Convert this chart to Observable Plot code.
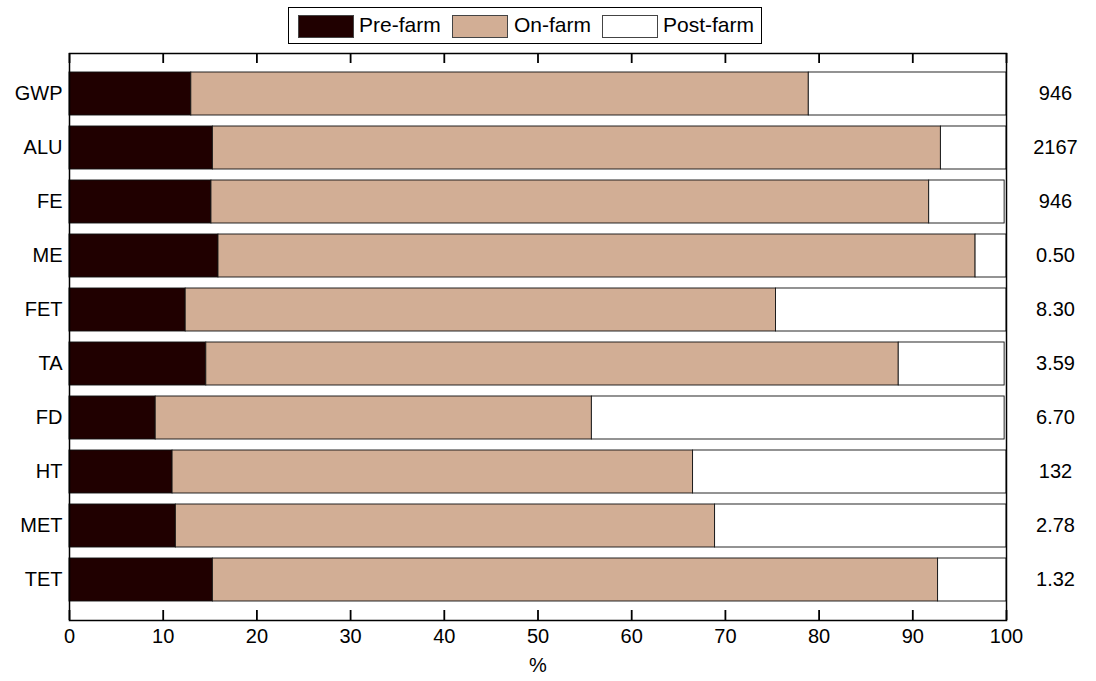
<!DOCTYPE html>
<html>
<head>
<meta charset="utf-8">
<script src="https://cdn.jsdelivr.net/npm/d3@7"></script>
<script src="https://cdn.jsdelivr.net/npm/@observablehq/plot@0.6"></script>
<style>
  html, body { margin: 0; padding: 0; background: #fff; }
  body { width: 1096px; height: 681px; overflow: hidden; font-family: "Liberation Sans", Arial, sans-serif; }
  #legend { position: relative; width: 1096px; height: 48px; }
  #legend .box { position: absolute; left: 288px; top: 7px; width: 472px; height: 35px; border: 1.5px solid #000; background: #fff; }
  #legend .sw { position: absolute; top: 15px; width: 54px; height: 21px; border: 1px solid #444; }
  #legend .lb { position: absolute; top: 13px; font-size: 21px; line-height: 24px; color: #000; }
  #chart svg { display: block; }
</style>
</head>
<body>
<div id="legend"></div>
<div id="chart"></div>
<script>
const categories = ["GWP", "ALU", "FE", "ME", "FET", "TA", "FD", "HT", "MET", "TET"];
const preFarm  = [13.0, 15.3, 15.15, 15.9, 12.4, 14.6, 9.2, 11.0, 11.35, 15.3];
const onFarm   = [65.9, 77.7, 76.6, 80.8, 63.0, 73.9, 46.55, 55.55, 57.55, 77.4];
const postFarm = [21.1, 7.0, 8.05, 3.3, 24.6, 11.3, 44.05, 33.45, 31.1, 7.3];
const totals   = ["946", "2167", "946", "0.50", "8.30", "3.59", "6.70", "132", "2.78", "1.32"];
const stages   = ["Pre-farm", "On-farm", "Post-farm"];
const colors   = ["#200000", "#D2AE95", "#FFFFFF"];
const xTicks   = [0, 10, 20, 30, 40, 50, 60, 70, 80, 90, 100];

const series = [preFarm, onFarm, postFarm];
const rows = [];
categories.forEach((c, i) => {
  stages.forEach((s, j) => rows.push({category: c, stage: s, value: series[j][i]}));
});
const labels = categories.map((c, i) => ({category: c, total: totals[i]}));
const tickRows = xTicks.map(v => ({tick: v}));

const lg = document.getElementById("legend");
const box = document.createElement("div"); box.className = "box"; lg.appendChild(box);
const swX = [298, 452, 602], lbX = [359, 514, 663];
stages.forEach((s, j) => {
  const sw = document.createElement("div");
  sw.className = "sw"; sw.style.left = swX[j] + "px"; sw.style.background = colors[j];
  lg.appendChild(sw);
  const lb = document.createElement("div");
  lb.className = "lb"; lb.style.left = lbX[j] + "px"; lb.textContent = s;
  lg.appendChild(lb);
});

const W = 1096, H = 633, mT = 5, mB = 61, tickLen = 10;
const innerH = H - mT - mB;
const font = "Liberation Sans, Arial, sans-serif";
const chart = Plot.plot({
  width: W, height: H,
  marginLeft: 69, marginRight: 90, marginTop: mT, marginBottom: mB,
  style: {fontFamily: font, fontSize: "20px", color: "#000", background: "#fff"},
  x: {domain: [0, 100], ticks: xTicks},
  y: {domain: categories, paddingInner: 0.2, paddingOuter: 0.33},
  color: {domain: stages, range: colors},
  marks: [
    Plot.barX(rows, Plot.stackX({
      x: "value", y: "category", z: "stage", order: stages,
      fill: "stage", stroke: "#111", strokeWidth: 0.9
    })),
    Plot.text(labels, {y: "category", text: "total", frameAnchor: "right", dx: 49, textAnchor: "middle", fontSize: 20, fill: "#000"}),
    Plot.axisY({tickSize: 0, tickPadding: 7, label: null, fontSize: 20}),
    Plot.axisX({anchor: "bottom", ticks: xTicks, tickSize: 0, tickPadding: 8, label: "%", labelAnchor: "center", labelArrow: "none", labelOffset: 51, fontSize: 20}),
    Plot.ruleX(tickRows, {x: "tick", insetBottom: innerH - tickLen, stroke: "#000", strokeWidth: 1.8}),
    Plot.ruleX(tickRows, {x: "tick", insetTop: innerH - tickLen, stroke: "#000", strokeWidth: 1.8}),
    Plot.frame({stroke: "#000", strokeWidth: 1.5})
  ]
});
document.getElementById("chart").appendChild(chart);
</script>
</body>
</html>
